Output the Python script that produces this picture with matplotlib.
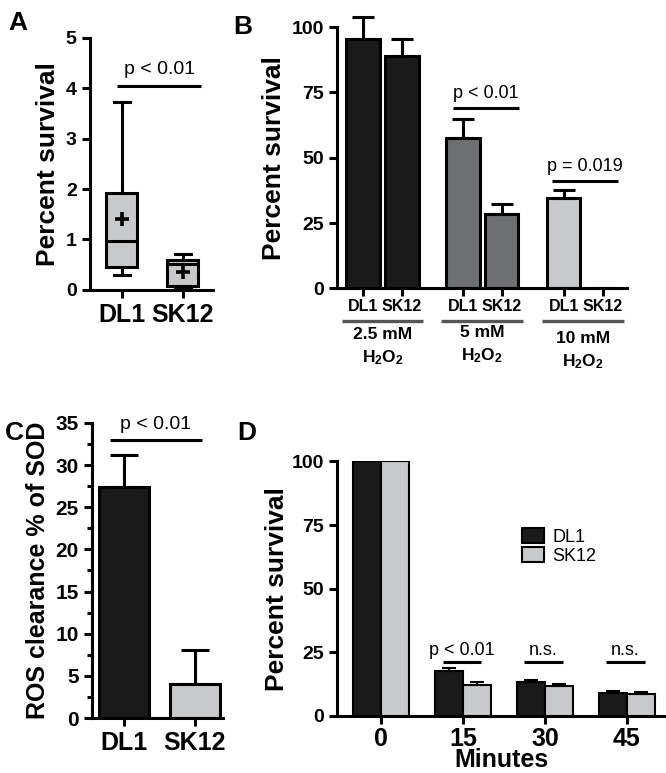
import numpy as np
import matplotlib
matplotlib.use('Agg')
import matplotlib.pyplot as plt
import matplotlib.transforms as mtransforms

plt.rcParams['font.family'] = ['Liberation Sans', 'DejaVu Sans']
plt.rcParams['mathtext.fontset'] = 'custom'
plt.rcParams['mathtext.rm'] = 'Liberation Sans:bold'
plt.rcParams['mathtext.bf'] = 'Liberation Sans:bold'
plt.rcParams['mathtext.default'] = 'bf'

# ---- data ----
# A: box plot summary (percent survival)
a_labels = ['DL1', 'SK12']
a_whislo = [0.30, 0.03]
a_q1 = [0.45, 0.07]
a_med = [0.97, 0.52]
a_q3 = [1.92, 0.60]
a_whishi = [3.72, 0.72]
a_mean = [1.40, 0.35]

# B: H2O2 survival
b_groups = ['2.5 mM\nH$_2$O$_2$', '5 mM\nH$_2$O$_2$', '10 mM\nH$_2$O$_2$']
b_dl1 = [95.5, 57.5, 34.5]
b_dl1_err = [8.5, 7.5, 3.3]
b_sk12 = [89.0, 28.5, 0.3]
b_sk12_err = [6.5, 3.8, 0.0]

# C: ROS clearance
c_labels = ['DL1', 'SK12']
c_vals = [27.4, 4.0]
c_err = [3.8, 4.1]

# D: time course
d_minutes = ['0', '15', '30', '45']
d_dl1 = [100, 17.5, 13.3, 8.8]
d_dl1_err = [0, 1.3, 0.9, 0.9]
d_sk12 = [100, 12.2, 11.6, 8.7]
d_sk12_err = [0, 0.9, 0.9, 0.6]
d_sig = ['p < 0.01', 'n.s.', 'n.s.']

BLACK = '#1a1a1a'
DARK = '#6e6f71'
LIGHT = '#c8c9cb'
LW = 2.2


def style(ax):
    for s in ['top', 'right']:
        ax.spines[s].set_visible(False)
    for s in ['left', 'bottom']:
        ax.spines[s].set_linewidth(LW)
    ax.tick_params(width=LW, length=6, direction='out')


def bold_y(ax, size):
    ax.tick_params(axis='y', labelsize=size)
    for t in ax.get_yticklabels():
        t.set_fontweight('bold')


def sig(ax, x0, x1, y, text, ty, size=13):
    ax.plot([x0, x1], [y, y], color='black', lw=LW, clip_on=False, solid_capstyle='butt')
    ax.text((x0 + x1) / 2, ty, text, ha='center', va='bottom', fontsize=size)


fig = plt.figure(figsize=(6.66, 7.73), dpi=100)

# ---- A ----
axA = fig.add_axes([0.135, 0.625, 0.185, 0.326])
stats = []
for i in range(2):
    stats.append(dict(label=a_labels[i], whislo=a_whislo[i], q1=a_q1[i], med=a_med[i],
                      q3=a_q3[i], whishi=a_whishi[i], mean=a_mean[i], fliers=[]))
axA.bxp(stats, positions=[0, 1], widths=0.52, patch_artist=True, showmeans=True,
        boxprops=dict(facecolor=LIGHT, edgecolor='black', linewidth=LW),
        medianprops=dict(color='black', linewidth=LW),
        whiskerprops=dict(color='black', linewidth=LW),
        capprops=dict(color='black', linewidth=LW),
        meanprops=dict(marker='+', markeredgecolor='black', markersize=10, markeredgewidth=2.6),
        capwidths=0.26)
style(axA)
axA.set_xlim(-0.52, 1.5)
axA.set_ylim(0, 5)
axA.set_yticks([0, 1, 2, 3, 4, 5])
axA.set_xticks([0, 1])
axA.set_xticklabels(a_labels, fontsize=18, fontweight='bold')
bold_y(axA, 14)
axA.set_ylabel('Percent survival', fontsize=19, fontweight='bold', labelpad=4)
sig(axA, -0.07, 1.3, 4.05, 'p < 0.01', 4.2, size=14)

# ---- B ----
axB = fig.add_axes([0.506, 0.627, 0.435, 0.338])
b_pos_dl1 = np.array([0.0, 2.56, 5.15])
b_pos_sk = b_pos_dl1 + 1.0
b_cols = [BLACK, DARK, LIGHT]
w = 0.86
axB.bar(b_pos_dl1, b_dl1, width=w, color=b_cols, edgecolor='black', linewidth=LW)
axB.bar(b_pos_sk, b_sk12, width=w, color=b_cols, edgecolor='black', linewidth=LW)
axB.errorbar(b_pos_dl1, b_dl1, yerr=[np.zeros(3), b_dl1_err], fmt='none', ecolor='black',
             elinewidth=LW, capsize=8, capthick=LW, clip_on=False)
axB.errorbar(b_pos_sk[:2], b_sk12[:2], yerr=[np.zeros(2), b_sk12_err[:2]], fmt='none',
             ecolor='black', elinewidth=LW, capsize=8, capthick=LW, clip_on=False)
style(axB)
axB.set_xlim(-0.67, 6.77)
axB.set_ylim(0, 100)
axB.set_yticks([0, 25, 50, 75, 100])
bold_y(axB, 14)
xt = np.sort(np.concatenate([b_pos_dl1, b_pos_sk]))
axB.set_xticks(xt)
axB.set_xticklabels(['DL1', 'SK12'] * 3, fontsize=11.5, fontweight='bold')
axB.tick_params(axis='x', pad=2)
axB.set_ylabel('Percent survival', fontsize=19, fontweight='bold', labelpad=4)
trB = mtransforms.blended_transform_factory(axB.transData, axB.transAxes)
for i, g in enumerate(b_groups):
    c = b_pos_dl1[i] + 0.5
    axB.plot([c - 1.05, c + 1.05], [-0.125, -0.125], transform=trB, color='#555555',
             lw=2.4, clip_on=False, solid_capstyle='butt')
    dy = [0, 0.008, -0.015][i]
    axB.text(c, -0.148 + dy, g, transform=trB, ha='center', va='top', fontsize=12.5,
             fontweight='bold', linespacing=1.45)
sig(axB, 2.3, 4.0, 69, 'p < 0.01', 71.5, size=13)
sig(axB, 4.85, 6.55, 41, 'p = 0.019', 43.5, size=13)

# ---- C ----
axC = fig.add_axes([0.138, 0.071, 0.197, 0.382])
c_pos = [0, 1]
axC.bar(c_pos, c_vals, width=0.7, color=[BLACK, LIGHT], edgecolor='black', linewidth=LW)
axC.errorbar(c_pos, c_vals, yerr=[[0, 0], c_err], fmt='none', ecolor='black',
             elinewidth=LW, capsize=10, capthick=LW)
style(axC)
axC.set_xlim(-0.45, 1.4)
axC.set_ylim(0, 35)
axC.set_yticks(np.arange(0, 36, 5))
axC.set_yticks(np.arange(0, 35, 2.5), minor=True)
axC.tick_params(axis='y', which='minor', width=LW, length=3.5)
bold_y(axC, 15)
axC.set_xticks(c_pos)
axC.set_xticklabels(c_labels, fontsize=18, fontweight='bold')
axC.set_ylabel('ROS clearance % of SOD', fontsize=18, fontweight='bold', labelpad=4)
sig(axC, -0.2, 1.1, 33, 'p < 0.01', 33.8, size=14)

# ---- D ----
axD = fig.add_axes([0.506, 0.074, 0.494, 0.329])
d_x = np.arange(4)
bw = 0.34
axD.bar(d_x - bw / 2, d_dl1, width=bw, color=BLACK, edgecolor='black', linewidth=1.5, label='DL1')
axD.bar(d_x + bw / 2, d_sk12, width=bw, color=LIGHT, edgecolor='black', linewidth=1.5, label='SK12')
axD.errorbar(d_x[1:] - bw / 2, d_dl1[1:], yerr=[np.zeros(3), d_dl1_err[1:]], fmt='none',
             ecolor='black', elinewidth=1.5, capsize=5, capthick=1.5)
axD.errorbar(d_x[1:] + bw / 2, d_sk12[1:], yerr=[np.zeros(3), d_sk12_err[1:]], fmt='none',
             ecolor='black', elinewidth=1.5, capsize=5, capthick=1.5)
style(axD)
axD.set_xlim(-0.54, 3.48)
axD.set_ylim(0, 100)
axD.set_yticks([0, 25, 50, 75, 100])
bold_y(axD, 14)
axD.set_xticks(d_x)
axD.set_xticklabels(d_minutes, fontsize=18, fontweight='bold')
axD.tick_params(axis='x', pad=2)
axD.set_xlabel('Minutes', fontsize=18, fontweight='bold', labelpad=-2)
axD.set_ylabel('Percent survival', fontsize=19, fontweight='bold', labelpad=2)
for i, s in enumerate(d_sig):
    sig(axD, d_x[i + 1] - 0.25, d_x[i + 1] + 0.22, 21, s, 22.5, size=13)
axD.legend(loc='upper left', bbox_to_anchor=(0.54, 0.765), frameon=False, fontsize=13,
           handlelength=1.2, handleheight=0.9, handletextpad=0.5, labelspacing=0.05,
           borderaxespad=0)

# ---- panel letters ----
for lbl, x, y in [('A', 0.012, 0.97), ('B', 0.35, 0.965), ('C', 0.008, 0.44), ('D', 0.356, 0.44)]:
    fig.text(x, y, lbl, fontsize=19, fontweight='bold', va='center')

fig.savefig('out.png', dpi=100)
